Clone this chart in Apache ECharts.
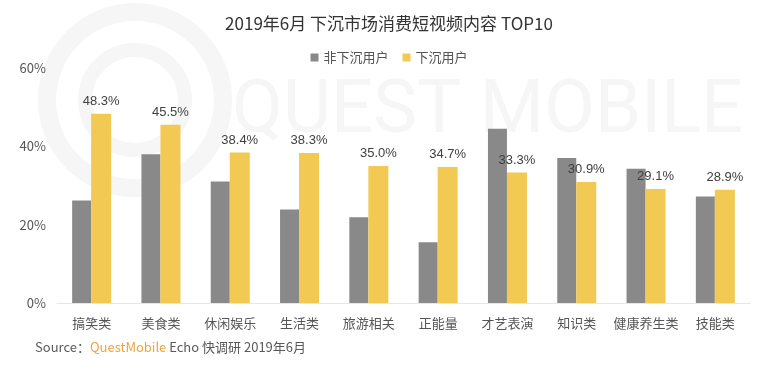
<!DOCTYPE html>
<html><head><meta charset="utf-8">
<script src="https://cdn.jsdelivr.net/npm/echarts@6/dist/echarts.min.js"></script>
<style>html,body{margin:0;padding:0;background:#fff}#c{width:778px;height:372px}</style>
</head><body><div id="c"></div>
<script>
const categories = ['搞笑类','美食类','休闲娱乐','生活类','旅游相关','正能量','才艺表演','知识类','健康养生类','技能类'];
const nonSinking = [26.2, 38.0, 31.0, 23.9, 21.9, 15.5, 44.5, 37.0, 34.3, 27.2];
const sinking = [48.3, 45.5, 38.4, 38.3, 35.0, 34.7, 33.3, 30.9, 29.1, 28.9];
const yTicks = [0, 20, 40, 60];
const seriesNames = ['非下沉用户','下沉用户'];

const font = '"Noto Sans CJK SC", "Noto Sans", sans-serif';
const chart = echarts.init(document.getElementById('c'));
chart.setOption({
  backgroundColor: '#fff',
  animation: false,
  title: {
    text: '2019年6月 下沉市场消费短视频内容 TOP10',
    left: 'center', top: 10,
    textStyle: {fontFamily: font, fontSize: 17, fontWeight: 'normal', color: '#333'}
  },
  legend: {
    data: seriesNames, top: 46, left: 'center',
    icon: 'rect', itemWidth: 8, itemHeight: 8, itemGap: 14,
    textStyle: {fontFamily: font, fontSize: 13, color: '#555'}
  },
  graphic: [
    {type: 'circle', z: -10, shape: {cx: 135, cy: 100, r: 88}, style: {fill: 'none', stroke: '#f6f6f6', lineWidth: 18}},
    {type: 'circle', z: -10, shape: {cx: 135, cy: 100, r: 50}, style: {fill: 'none', stroke: '#f6f6f6', lineWidth: 14}},
    {type: 'text', z: -10, left: 232, top: 76, style: {text: 'QUEST MOBILE', font: '400 74px Roboto, sans-serif', fill: '#f6f6f6'}},
    {type: 'text', left: 35, top: 341, style: {rich: {
        a: {fontFamily: font, fontSize: 13, fill: '#595959'},
        b: {fontFamily: font, fontSize: 13, fill: '#f0a33a'}
      }, text: '{a|Source：}{b|QuestMobile}{a| Echo 快调研 2019年6月}'}}
  ],
  grid: {left: 57, right: 28, top: 68, bottom: 69},
  xAxis: {
    type: 'category', data: categories,
    axisLine: {lineStyle: {color: '#e6e6e6'}},
    axisTick: {show: false},
    axisLabel: {fontFamily: font, fontSize: 13, color: '#555', margin: 14, interval: 0}
  },
  yAxis: {
    type: 'value', min: yTicks[0], max: yTicks[yTicks.length-1], interval: 20,
    axisLine: {show: false}, axisTick: {show: false}, splitLine: {show: false},
    axisLabel: {fontFamily: font, fontSize: 13, color: '#555', margin: 11, formatter: '{value}%'}
  },
  series: [
    {name: seriesNames[0], type: 'bar', data: nonSinking, barWidth: 19, barGap: '0%', itemStyle: {color: '#898989'}},
    {name: seriesNames[1], type: 'bar', data: sinking, barWidth: 20, itemStyle: {color: '#f2c952'},
     label: {show: true, position: 'top', distance: 6, formatter: p => p.value.toFixed(1) + '%',
             fontFamily: 'Liberation Sans, Arial, sans-serif', fontSize: 13, color: '#404040'}}
  ]
});
</script></body></html>
